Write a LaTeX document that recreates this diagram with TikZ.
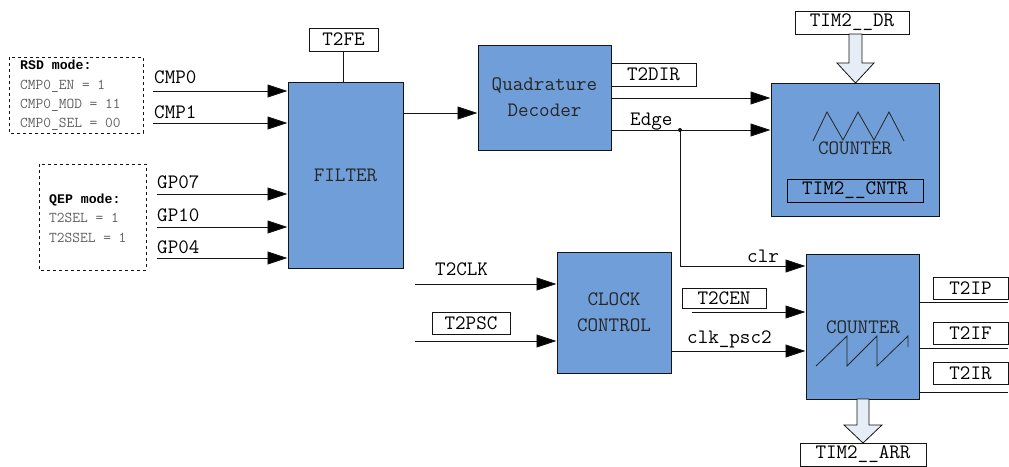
\documentclass[tikz,border=0pt]{standalone}
\usepackage{fontspec}
\newfontfamily\bmono{Liberation Mono}
\usetikzlibrary{arrows.meta}
\definecolor{boxblue}{RGB}{112,158,216}
\definecolor{pale}{RGB}{230,237,247}
\definecolor{edgec}{RGB}{20,20,20}
\definecolor{dimtext}{RGB}{95,95,95}
\tikzset{
  blk/.style={draw=edgec, fill=boxblue, line width=1pt, inner sep=0pt, align=center,
              font=\ttfamily\fontsize{20.5}{26}\selectfont, text=black!85},
  reg/.style={draw=edgec, fill=white, line width=0.9pt, inner sep=0pt,
              font=\ttfamily\fontsize{20.5}{22}\selectfont},
  arr/.style={-{Triangle[length=20pt,width=13pt,fill=black]}, line width=0.9pt, draw=edgec},
  wire/.style={line width=0.9pt, draw=edgec},
  lbl/.style={inner sep=0pt, anchor=base west, font=\ttfamily\fontsize{20.5}{22}\selectfont},
  small/.style={inner sep=0pt, anchor=base west, text=dimtext, font=\ttfamily\fontsize{15}{17}\selectfont},
  smallb/.style={inner sep=0pt, anchor=base west, text=black, font=\bmono\bfseries\fontsize{13.2}{17}\selectfont},
  modebox/.style={draw=edgec, dashed, line width=0.8pt},
  bigarrow/.style={draw=edgec, fill=pale, line width=0.8pt}
}
\begin{document}
\begin{tikzpicture}[x=1pt,y=-1pt]
\useasboundingbox (0,0) rectangle (1009,466);

% mode boxes
\draw[modebox] (9,57) rectangle (143,133);
\node[smallb] (rsd) at (20,69) {RSD mode:};
\node[small] (rsd1) at (20,89) {CMP0\_EN = 1};
\node[small] (rsd2) at (20,108) {CMP0\_MOD = 11};
\node[small] (rsd3) at (20,127) {CMP0\_SEL = 00};
\draw[modebox] (39,164) rectangle (146,270);
\node[smallb] (qep) at (49,203) {QEP mode:};
\node[small] (qep1) at (49,222) {T2SEL = 1};
\node[small] (qep2) at (49,242) {T2SSEL = 1};

% main blocks
\node[blk, minimum width=115pt, minimum height=186pt] (filter) at (345.5,175) {FILTER};
\node[blk, minimum width=133pt, minimum height=105pt] (quad) at (544.5,97.5) {Quadrature\\Decoder};
\node[blk, minimum width=168pt, minimum height=133pt] (cnt1) at (855,149.5) {};
\node[blk, minimum width=114pt, minimum height=121pt] (clk) at (614,312.5) {CLOCK\\CONTROL};
\node[blk, minimum width=113pt, minimum height=145pt] (cnt2) at (862.5,326.5) {};

% register boxes
\node[reg, minimum width=69pt, minimum height=23pt] (t2fe) at (343.5,39.5) {T2FE};
\node[reg, minimum width=85pt, minimum height=23pt] (t2dir) at (653.5,74.5) {T2DIR};
\node[reg, minimum width=114pt, minimum height=23pt] (tim2dr) at (852,22.5) {TIM2\_\_DR};
\node[reg, draw=black, fill=none, minimum width=136pt, minimum height=23pt] (cntr) at (855,190.5) {TIM2\_\_CNTR};
\node[reg, minimum width=78pt, minimum height=22pt] (t2psc) at (471,323) {T2PSC};
\node[reg, minimum width=84pt, minimum height=20pt] (t2cen) at (724,298) {T2CEN};
\node[reg, minimum width=75pt, minimum height=22pt] (t2ip) at (970.5,288) {T2IP};
\node[reg, minimum width=75pt, minimum height=22pt] (t2if) at (970.5,333) {T2IF};
\node[reg, minimum width=75pt, minimum height=22pt] (t2ir) at (970.5,373) {T2IR};
\node[reg, minimum width=126pt, minimum height=23pt] (tim2arr) at (863,454.5) {TIM2\_\_ARR};

% counter contents
\node[inner sep=0pt, font=\ttfamily\fontsize{20.5}{22}\selectfont, text=black!85] (ctxt1) at (855,148) {COUNTER};
\draw[line width=0.8pt, draw=black!85] (813,141) -- (827,112) -- (843,140) -- (858,112) -- (874,140) -- (889,112) -- (904,141);
\node[inner sep=0pt, font=\ttfamily\fontsize{20.5}{22}\selectfont, text=black!85] (ctxt2) at (863,327) {COUNTER};
\draw[line width=0.8pt, draw=black!85] (816,366) -- (847,336) -- (847,366) -- (877,336) -- (877,366) -- (908,336) -- (908,347);

% block arrows
\draw[bigarrow] (849,34) -- (849,63) -- (837,63) -- (855.5,83) -- (874,63) -- (862,63) -- (862,34) -- cycle;
\draw[bigarrow] (857,399) -- (857,425) -- (844,425) -- (863,443) -- (882,425) -- (869,425) -- (869,399) -- cycle;

% input arrows to filter
\coordinate (c0) at (153,91);
\coordinate (c1) at (153,123);
\coordinate (g7) at (157,194);
\coordinate (g10) at (157,227);
\coordinate (g4) at (157,258);
\draw[arr] (c0) -- (c0 -| filter.west);
\draw[arr] (c1) -- (c1 -| filter.west);
\draw[arr] (g7) -- (g7 -| filter.west);
\draw[arr] (g10) -- (g10 -| filter.west);
\draw[arr] (g4) -- (g4 -| filter.west);
\node[lbl] (lc0) at (154,83) {CMP0};
\node[lbl] (lc1) at (154,118) {CMP1};
\node[lbl] (lg7) at (157,188) {GP07};
\node[lbl] (lg10) at (157,221) {GP10};
\node[lbl] (lg4) at (157,253) {GP04};

\draw[wire] (t2fe.south) -- (t2fe.south |- filter.north);
\draw[arr] (filter.east |- 0,113) -- (quad.west |- 0,113);

% decoder outputs
\draw[arr] (quad.east |- 0,98) -- (cnt1.west |- 0,98);
\draw[arr] (quad.east |- 0,130) -- (cnt1.west |- 0,130);
\node[lbl] (ledge) at (630,125) {Edge};
\coordinate (ej) at (680,130);
\fill[edgec] (ej) circle (2pt);
\draw[arr] (ej) |- (cnt2.west |- 0,266);
\node[lbl] (lclr) at (747,262) {clr};

% clock control
\coordinate (tclk) at (415,284);
\coordinate (tpsc) at (415,341);
\draw[arr] (tclk) -- (tclk -| clk.west);
\draw[arr] (tpsc) -- (tpsc -| clk.west);
\node[lbl] (lclk) at (435,275) {T2CLK};
\coordinate (tcen) at (692,312);
\draw[arr] (tcen) -- (tcen -| cnt2.west);
\draw[arr] (clk.east |- 0,351) -- (cnt2.west |- 0,351);
\node[lbl] (lpsc2) at (687,343) {clk\_psc2};

% outputs
\draw[wire] (cnt2.east |- 0,302) -- (t2ip.east |- 0,302);
\draw[wire] (cnt2.east |- 0,348) -- (t2if.east |- 0,348);
\draw[wire] (cnt2.east |- 0,392) -- (t2ir.east |- 0,392);
\end{tikzpicture}
\end{document}
